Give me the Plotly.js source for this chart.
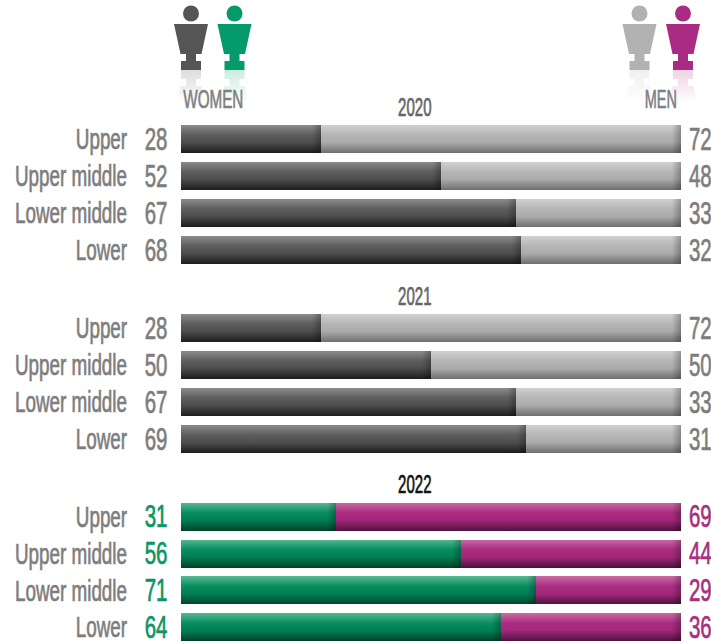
<!DOCTYPE html>
<html><head><meta charset="utf-8">
<script src="https://cdn.plot.ly/plotly-3.0.1.min.js"></script>
<style>html,body{margin:0;padding:0;background:#fff}#c{width:711px;height:644px}</style>
</head><body><div id="c"></div>
<script>
const categories = ['Upper','Upper middle','Lower middle','Lower'];
const years = ['2020','2021','2022'];
const women2020 = [28,52,67,68];
const men2020 = [72,48,33,32];
const women2021 = [28,50,67,69];
const men2021 = [72,50,33,31];
const women2022 = [31,56,71,64];
const men2022 = [69,44,29,36];
const womenLabel = 'WOMEN';
const menLabel = 'MEN';

const W = 711, H = 644;
const FONT = '"Liberation Sans",sans-serif';
const GREY_TXT = '#7d7d7d', GREEN_TXT = '#0a9565', PURPLE_TXT = '#a92d80';
const py = y => 1 - y / H;

const panels = [
 {w:women2020,m:men2020,dom:[py(268.5),py(120.5)],range:[3.5,-0.5],wc:'#555555',mc:'#b4b4b4',wt:GREY_TXT,mt:GREY_TXT,yt:'#666666',ty:107},
 {w:women2021,m:men2021,dom:[py(457.5),py(309.5)],range:[3.5,-0.5],wc:'#555555',mc:'#b4b4b4',wt:GREY_TXT,mt:GREY_TXT,yt:'#666666',ty:296},
 {w:women2022,m:men2022,dom:[0,py(498.5)],range:[3.459,-0.5],wc:'#008a5c',mc:'#a92b80',wt:GREEN_TXT,mt:PURPLE_TXT,yt:'#111111',ty:484}
];
const traces = [];
const layout = {
  width:W,height:H,margin:{l:181,r:30,t:0,b:0},paper_bgcolor:'#fff',plot_bgcolor:'#fff',
  barmode:'stack',bargap:0.238,showlegend:false,font:{family:FONT,color:GREY_TXT},annotations:[],shapes:[]
};
const squeeze = [];   // [horizontal factor, edge kept] for each annotation, same order
panels.forEach((p,i)=>{
  const s = i?String(i+1):'';
  traces.push({type:'bar',orientation:'h',name:'Women '+years[i],y:categories,x:p.w,xaxis:'x'+s,yaxis:'y'+s,marker:{color:p.wc,line:{width:0}}});
  traces.push({type:'bar',orientation:'h',name:'Men '+years[i],y:categories,x:p.m,xaxis:'x'+s,yaxis:'y'+s,marker:{color:p.mc,line:{width:0}}});
  layout['xaxis'+s] = {range:[0,100],visible:false,fixedrange:true,anchor:'y'+s,domain:[0,1]};
  layout['yaxis'+s] = {type:'category',categoryorder:'array',categoryarray:categories,range:p.range,domain:p.dom,anchor:'x'+s,
    showgrid:false,zeroline:false,showline:false,ticks:'',ticklabelstandoff:53,fixedrange:true,
    tickfont:{family:FONT,size:29,color:GREY_TXT}};
  categories.forEach((c,k)=>{
    layout.annotations.push({xref:'x'+s,yref:'y'+s,x:0,y:c,xanchor:'right',xshift:-12,text:String(p.w[k]),showarrow:false,font:{family:FONT,size:31,color:p.wt}});
    squeeze.push([0.66,'r']);
    layout.annotations.push({xref:'x'+s,yref:'y'+s,x:100,y:c,xanchor:'left',xshift:6,text:String(p.m[k]),showarrow:false,font:{family:FONT,size:31,color:p.mt}});
    squeeze.push([0.66,'l']);
  });
  layout.annotations.push({xref:'paper',yref:'paper',x:(415-181)/500,y:py(p.ty),xanchor:'center',yanchor:'middle',text:years[i],showarrow:false,font:{family:FONT,size:25,color:p.yt}});
  squeeze.push([0.6,'c']);
});
layout.annotations.push({xref:'paper',yref:'paper',x:(213-181)/500,y:py(99),xanchor:'center',yanchor:'middle',text:womenLabel,showarrow:false,font:{family:FONT,size:25,color:'#808080'}});
squeeze.push([0.61,'c']);
layout.annotations.push({xref:'paper',yref:'paper',x:(661-181)/500,y:py(99),xanchor:'center',yanchor:'middle',text:menLabel,showarrow:false,font:{family:FONT,size:25,color:'#808080'}});
squeeze.push([0.58,'c']);

// pictograms: head, body and a fading reflection underneath
const toPaper = pts => pts.map(p=>[(p[0]-181)/500, 1-p[1]/H]);
const pth = pts => 'M'+toPaper(pts).map(p=>p[0]+','+p[1]).join('L')+'Z';
const body = c => [[-17,24],[17,24],[10.5,54],[5,54],[5,61],[10,61],[10,70],[-10,70],[-10,61],[-5,61],[-5,54],[-10.5,54]].map(p=>[c+p[0],p[1]]);
const refl = c => [[-10,70],[10,70],[10,79],[5,79],[5,86],[10.5,86],[14,102],[-14,102],[-10.5,86],[-5,86],[-5,79],[-10,79]].map(p=>[c+p[0],p[1]]);
const icons = [[191,'#555555'],[234.5,'#049a69'],[639.5,'#b2b2b2'],[683,'#aa2b82']];
icons.forEach(ic=>{
  const c=ic[0];
  layout.shapes.push({type:'path',xref:'paper',yref:'paper',layer:'below',path:pth(refl(c)),fillcolor:ic[1],line:{width:0}});
  layout.shapes.push({type:'circle',xref:'paper',yref:'paper',x0:(c-8-181)/500,x1:(c+8-181)/500,y0:py(21.5),y1:py(5.5),fillcolor:ic[1],line:{width:0}});
  layout.shapes.push({type:'path',xref:'paper',yref:'paper',path:pth(body(c)),fillcolor:ic[1],line:{width:0}});
});

function narrow(el,k,edge){
  const b=el.getBBox();
  const ax = edge==='r' ? b.x+b.width : edge==='l' ? b.x : b.x+b.width/2;
  const old = el.getAttribute('transform')||'';
  el.setAttribute('transform',old+' translate('+ax+',0) scale('+k+',1) translate('+(-ax)+',0)');
  el.style.stroke=el.style.fill;
  el.style.strokeWidth='0.7px';
}

Plotly.newPlot('c',traces,layout,{staticPlot:true,displayModeBar:false}).then(gd=>{
  const svg=gd.querySelector('svg.main-svg');
  const NS='http://www.w3.org/2000/svg';
  const defs=document.createElementNS(NS,'defs');
  const grad=(id,vert,stops,attrs)=>{
    const g=document.createElementNS(NS,'linearGradient');
    g.setAttribute('id',id);
    if(vert){g.setAttribute('x1',0);g.setAttribute('x2',0);g.setAttribute('y1',0);g.setAttribute('y2',1);}
    Object.entries(attrs||{}).forEach(([a,v])=>g.setAttribute(a,v));
    stops.forEach(st=>{const s=document.createElementNS(NS,'stop');s.setAttribute('offset',st[0]);s.setAttribute('stop-color',st[1]);s.setAttribute('stop-opacity',st[2]===undefined?1:st[2]);g.appendChild(s);});
    defs.appendChild(g);
  };
  const band=c=>[[0,c[0]],[.35,c[1]],[.62,c[2]],[1,c[3]]];
  grad('gw',1,band(['#8c8c8c','#5e5e5e','#4d4d4d','#1c1c1c']));
  grad('gm',1,band(['#d0d0d0','#b6b6b6','#ababab','#6e6e6e']));
  grad('gg',1,band(['#56b892','#088e60','#007f54','#004428']));
  grad('gp',1,band(['#c96aa6','#aa2d81','#a3277b','#4f1340']));
  svg.insertBefore(defs,svg.firstChild);

  let n=0;
  gd.querySelectorAll('.barlayer .trace').forEach((t,i)=>{
    const id=['gw','gm','gw','gm','gg','gp'][i];
    t.querySelectorAll('path').forEach(p=>{
      p.style.fill='url(#'+id+')';
      const b=p.getBBox(), hid='hs'+(n++);
      const r=b.x+b.width;
      grad(hid,0,[[0,'#000',0],[1,'#000',0.28]],{gradientUnits:'userSpaceOnUse',x1:r-9,x2:r,y1:0,y2:0});
      const cl=p.cloneNode(true);
      cl.style.fill='url(#'+hid+')';
      p.parentNode.appendChild(cl);
    });
  });

  // soft fade on pictogram reflections
  const shapeEls=[...gd.querySelectorAll('.layer-below .shapelayer path')];
  shapeEls.forEach((p,i)=>{
    const c=icons[i][1], id='rf'+i;
    grad(id,1,[[0,c,0.2],[.5,c,0.11],[1,c,0]]);
    p.style.fill='url(#'+id+')';
    p.style.fillOpacity=1;
  });

  gd.querySelectorAll('.annotation-text').forEach((el,i)=>narrow(el,squeeze[i][0],squeeze[i][1]));
  gd.querySelectorAll('.ytick text, .y2tick text, .y3tick text').forEach(el=>narrow(el,0.65,'r'));
});
</script>
</body></html>
